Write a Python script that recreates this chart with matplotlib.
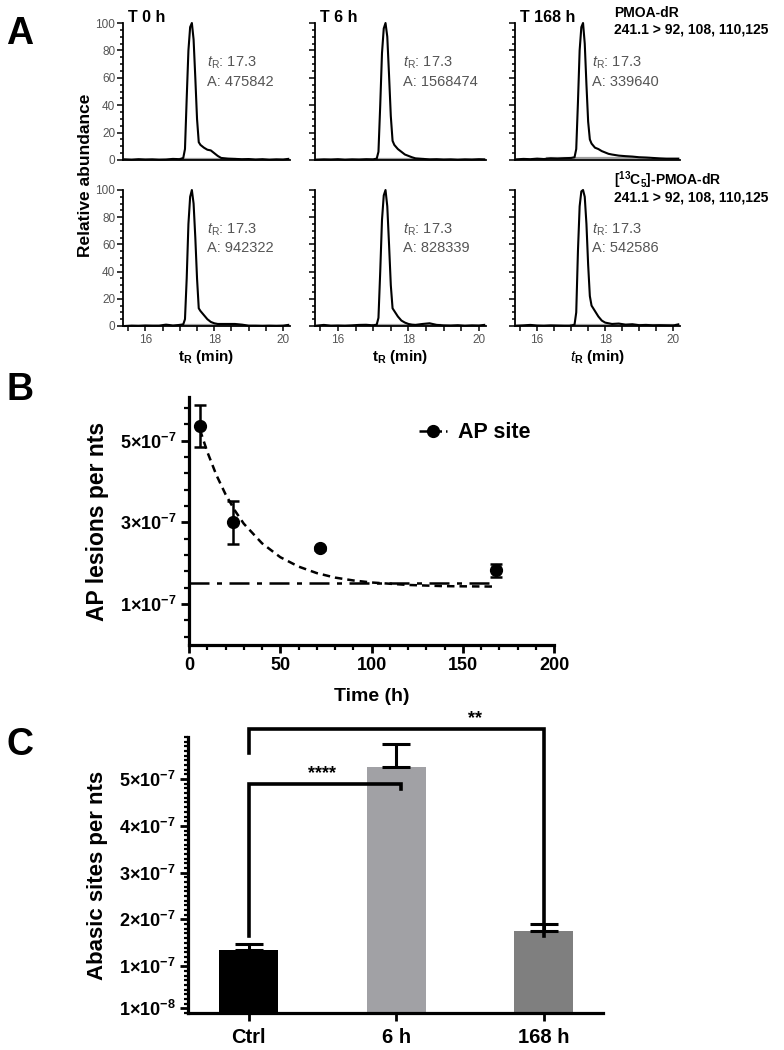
import matplotlib

matplotlib.use("Agg")
import matplotlib.pyplot as plt
import numpy as np
from matplotlib.lines import Line2D
from matplotlib.ticker import MultipleLocator

plt.rcParams["font.family"] = ["Liberation Sans", "DejaVu Sans"]
plt.rcParams["mathtext.fontset"] = "custom"
plt.rcParams["mathtext.rm"] = "Liberation Sans"
plt.rcParams["mathtext.it"] = "Liberation Sans:italic"
plt.rcParams["mathtext.bf"] = "Liberation Sans:bold"

# --- A: cromatogramas (abundancia relativa, %) ---
rt = [15.4, 15.6, 15.8, 16.0, 16.2, 16.4, 16.6, 16.8, 17.0, 17.1, 17.15, 17.2,
      17.25, 17.3, 17.35, 17.4, 17.45, 17.5, 17.55, 17.6, 17.7, 17.8, 17.9, 18.0,
      18.1, 18.2, 18.4, 18.6, 18.8, 19.0, 19.2, 19.4, 19.6, 19.8, 20.0, 20.15]
pmoa_t0 = [0.5, 0.3, 0.6, 0.4, 0.5, 0.3, 0.4, 0.8, 0.6, 1.5, 8, 45, 80, 97, 100, 88,
           60, 30, 13, 11, 9, 7.5, 7, 5, 3, 1.5, 1, 0.8, 0.6, 0.7, 0.4, 0.6, 0.3, 0.5, 0.4, 0.8]
pmoa_t6 = [0.3, 0.5, 0.4, 0.6, 0.3, 0.5, 0.4, 0.6, 0.5, 1, 6, 40, 78, 96, 100, 90,
           62, 32, 14, 11, 8, 6, 4, 3, 2, 1.2, 0.8, 0.5, 0.6, 0.4, 0.5, 0.3, 0.5, 0.4, 0.6, 0.5]
pmoa_t168 = [0.5, 0.8, 0.6, 1, 0.7, 1.2, 1, 1.3, 1.5, 2, 8, 42, 80, 97, 100, 85,
             55, 28, 15, 12, 9, 8, 6.5, 5.5, 4.5, 4, 3.2, 2.8, 2.5, 2, 1.8, 1.5, 1.2, 1, 1, 1]
c13_t0 = [0, 0.3, 0.2, 0.4, 0.3, 0.3, 1, 0.4, 0.8, 1.2, 5, 35, 75, 95, 100, 90,
          65, 35, 13, 11, 8, 5, 3, 2, 1.5, 1.5, 1.5, 1.5, 1, 0.3, 0.3, 0.2, 0.3, 0.2, 0.3, 0.8]
c13_t6 = [0.3, 0.8, 0.3, 0.4, 0.3, 0.5, 0.8, 0.9, 0.5, 1, 6, 40, 78, 96, 100, 88,
          60, 30, 13, 11, 7, 4, 2.5, 1.5, 1, 0.8, 1.5, 2, 0.8, 0.5, 0.4, 0.6, 0.3, 0.5, 0.4, 0.8]
c13_t168 = [0.3, 0.5, 0.8, 0.4, 0.3, 0.5, 0.4, 0.3, 0.3, 1, 10, 55, 88, 99, 100, 95,
            75, 45, 22, 15, 11, 7, 4, 2.5, 2, 1.5, 1.8, 1, 1.3, 0.6, 0.8, 0.5, 0.6, 0.5, 0.4, 1.2]
# linea base de integracion (inicio, fin, nivel)
pmoa_base = [(17.0, 18.6, 0.6), (17.1, 18.4, 0.5), (16.3, 19.3, 1.5)]
c13_base = [(17.0, 18.8, 0.4), (17.0, 18.9, 0.4), (17.0, 20.0, 0.5)]
time_labels = ["T 0 h", "T 6 h", "T 168 h"]
peak_rt = 17.3
pmoa_area = [475842, 1568474, 339640]
c13_area = [942322, 828339, 542586]

# --- B: cinetica de sitios AP ---
b_time = [6, 24, 72, 168]
b_mean = [5.36e-7, 3.0e-7, 2.37e-7, 1.83e-7]
b_err = [0.52e-7, 0.53e-7, 0.04e-7, 0.16e-7]
fit_t = [6, 10, 15, 20, 25, 30, 40, 50, 60, 70, 80, 90, 100, 120, 140, 168]
fit_y = [5.27e-7, 4.73e-7, 4.16e-7, 3.69e-7, 3.30e-7, 2.97e-7, 2.49e-7, 2.15e-7,
         1.92e-7, 1.76e-7, 1.65e-7, 1.58e-7, 1.53e-7, 1.47e-7, 1.44e-7, 1.43e-7]
ctrl_span = [0, 168]
ctrl_level = 1.52e-7

# --- C: barras ---
c_groups = ["Ctrl", "6 h", "168 h"]
c_mean = [1.35e-7, 5.25e-7, 1.75e-7]
c_err = [0.13e-7, 0.50e-7, 0.16e-7]
c_colors = ["#000000", "#a1a1a5", "#7f7f7f"]

W, H = 784, 1050
GRAY = "#555555"


def px_box(left, top, right, bottom):
    return [left / W, 1 - bottom / H, (right - left) / W, (bottom - top) / H]


def sci_label(v):
    m, e = f"{v:.0e}".split("e")
    return rf"$\mathbf{{{m}{{\times}}10^{{{int(e)}}}}}$"


fig = plt.figure(figsize=(W / 100, H / 100), dpi=100)

# ---------------- Panel A ----------------
a_cols = [(123, 290), (315, 486), (515, 680)]
a_rows = [(23, 160), (190, 326)]
traces = [[pmoa_t0, pmoa_t6, pmoa_t168], [c13_t0, c13_t6, c13_t168]]
bases = [pmoa_base, c13_base]
areas = [pmoa_area, c13_area]
ann_x = [17.78, 17.86, 17.6]
for r, (top, bottom) in enumerate(a_rows):
    for c, (left, right) in enumerate(a_cols):
        ax = fig.add_axes(px_box(left, top, right, bottom))
        x0, x1, lvl = bases[r][c]
        ax.plot([x0, x1], [lvl, lvl], color="#a0a0a0", lw=1.6, zorder=1)
        ax.plot(rt, traces[r][c], color="black", lw=1.5, clip_on=False, zorder=2)
        ax.set_xlim(15.35, 20.2)
        ax.set_ylim(0, 100)
        for s in ("top", "right"):
            ax.spines[s].set_visible(False)
        for s in ("left", "bottom"):
            ax.spines[s].set_linewidth(1.3)
        ax.yaxis.set_major_locator(MultipleLocator(20))
        ax.yaxis.set_minor_locator(MultipleLocator(5))
        ax.tick_params(axis="y", which="major", length=4, width=1.1,
                       labelsize=8.5, labelcolor=GRAY, pad=1.5)
        ax.tick_params(axis="y", which="minor", length=2.5, width=1.1)
        if c > 0:
            ax.tick_params(axis="y", labelleft=False)
        ax.text(ann_x[c], 71, rf"$t_{{\mathrm{{R}}}}$: {peak_rt}", color=GRAY,
                fontsize=10.5, va="center")
        ax.text(ann_x[c], 57, f"A: {areas[r][c]}", color=GRAY,
                fontsize=10.5, va="center")
        if r == 0:
            ax.tick_params(axis="x", which="both", bottom=False, labelbottom=False)
            fig.text((left + 5) / W, 1 - 17 / H, time_labels[c],
                     fontsize=11.5, fontweight="bold", va="center")
        else:
            ax.set_xticks([16, 18, 20])
            ax.xaxis.set_minor_locator(MultipleLocator(0.5))
            ax.tick_params(axis="x", which="both", length=3.5, width=1.1,
                           labelsize=8.5, labelcolor=GRAY, pad=2)
            tlab = r"$\mathit{t}_\mathbf{R}$" if c == 2 else r"$\mathbf{t_R}$"
            ax.set_xlabel(tlab + " (min)", fontsize=11, fontweight="bold", labelpad=2)

fig.text(85 / W, 1 - 175 / H, "Relative abundance", rotation=90, fontsize=12.5,
         fontweight="bold", ha="center", va="center")
fig.text(614 / W, 1 - 13 / H, "PMOA-dR", fontsize=10, fontweight="bold", va="center")
fig.text(614 / W, 1 - 30 / H, "241.1 > 92, 108, 110,125", fontsize=10,
         fontweight="bold", va="center")
fig.text(614 / W, 1 - 180 / H, r"[$^{\mathbf{13}}$C$_{\mathbf{5}}$]-PMOA-dR", fontsize=10,
         fontweight="bold", va="center")
fig.text(614 / W, 1 - 197 / H, "241.1 > 92, 108, 110,125", fontsize=10,
         fontweight="bold", va="center")

# ---------------- Panel B ----------------
axb = fig.add_axes(px_box(189, 397, 554, 645))
axb.plot(fit_t, fit_y, ls=(0, (3, 2)), color="black", lw=1.8)
axb.plot(ctrl_span, [ctrl_level, ctrl_level], ls=(0, (8, 3, 2, 3)), color="black", lw=1.8)
axb.errorbar(b_time, b_mean, yerr=b_err, fmt="o", color="black", ms=8.5,
             capsize=4, elinewidth=1.8, capthick=1.8, clip_on=False, zorder=3)
axb.set_xlim(0, 200)
axb.set_ylim(0, 6.07e-7)
for s in ("top", "right"):
    axb.spines[s].set_visible(False)
for s in ("left", "bottom"):
    axb.spines[s].set_linewidth(2.3)
axb.xaxis.set_major_locator(MultipleLocator(50))
axb.xaxis.set_minor_locator(MultipleLocator(10))
b_yticks = [1e-7, 3e-7, 5e-7]
axb.set_yticks(b_yticks, labels=[sci_label(v) for v in b_yticks])
axb.set_yticks([v * 1e-7 for v in (0.2, 0.6, 1.4, 1.8, 2.2, 2.6, 3.4, 3.8, 4.2,
                                   4.6, 5.4, 5.8)], minor=True)
axb.tick_params(which="major", length=6, width=2, labelsize=13, pad=3)
axb.tick_params(which="minor", length=3.5, width=1.6)
for lab in axb.get_xticklabels():
    lab.set_fontweight("bold")
axb.set_xlabel("Time (h)", fontsize=14, fontweight="bold", labelpad=10)
axb.set_ylabel("AP lesions per nts", fontsize=16.5, fontweight="bold", labelpad=8)
handle = Line2D([], [], ls="-.", marker="o", color="black", ms=8.5, lw=1.8)
axb.legend([handle], ["AP site"], loc="center left", bbox_to_anchor=(0.63, 0.855),
           frameon=False, prop={"weight": "bold", "size": 15.5}, handlelength=1.3,
           handletextpad=0.5, borderpad=0, borderaxespad=0)

# ---------------- Panel C ----------------
axc = fig.add_axes(px_box(188, 737, 603, 1013))
xc = np.arange(len(c_groups))
axc.bar(xc, c_mean, width=0.4, color=c_colors, zorder=2)
axc.errorbar(xc, c_mean, yerr=[np.zeros(len(c_mean)), c_err], fmt="none",
             ecolor="black", elinewidth=2.2, capsize=10, capthick=2.2, zorder=3)
axc.set_xlim(-0.41, 2.4)
axc.set_ylim(0, 5.9e-7)
for s in ("top", "right"):
    axc.spines[s].set_visible(False)
for s in ("left", "bottom"):
    axc.spines[s].set_linewidth(2.3)
axc.set_xticks(xc, labels=c_groups)
c_yticks = [1e-8, 1e-7, 2e-7, 3e-7, 4e-7, 5e-7]
axc.set_yticks(c_yticks, labels=[sci_label(v) for v in c_yticks])
axc.yaxis.set_minor_locator(MultipleLocator(1e-8))
axc.tick_params(which="major", length=6, width=2, labelsize=13, pad=3)
axc.tick_params(axis="x", labelsize=14.5, pad=5)
axc.tick_params(which="minor", length=3, width=1.6)
for lab in axc.get_xticklabels():
    lab.set_fontweight("bold")
axc.set_ylabel("Abasic sites per nts", fontsize=16, fontweight="bold", labelpad=8)

# corchetes de significancia
br = dict(color="black", lw=2.6, clip_on=False, solid_joinstyle="miter", zorder=4)
axc.plot([0, 0, 1.03, 1.03], [1.64e-7, 4.89e-7, 4.89e-7, 4.78e-7], **br)
axc.text(0.5, 4.93e-7, "****", ha="center", va="bottom", fontsize=13, fontweight="bold")
axc.plot([0, 0, 2, 2], [5.56e-7, 6.08e-7, 6.08e-7, 1.64e-7], **br)
axc.text(1.53, 6.12e-7, "**", ha="center", va="bottom", fontsize=13, fontweight="bold")

# letras de panel
for letter, ypx in (("A", 34), ("B", 390), ("C", 745)):
    fig.text(20 / W, 1 - ypx / H, letter, fontsize=27, fontweight="bold",
             ha="center", va="center")

fig.savefig("out.png", dpi=100)
